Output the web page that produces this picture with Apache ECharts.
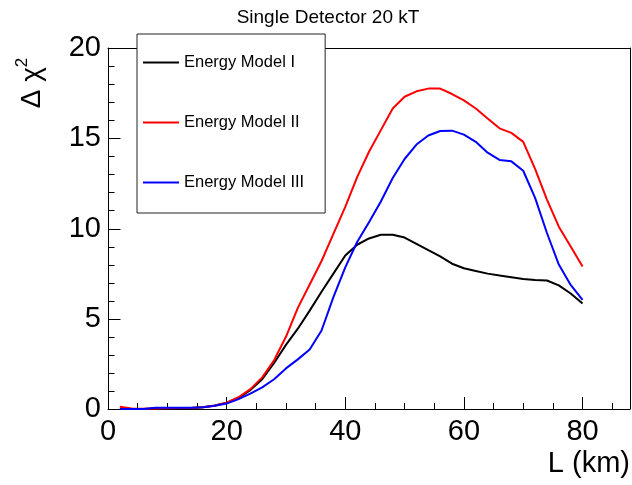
<!DOCTYPE html>
<html><head><meta charset="utf-8">
<script src="https://cdn.jsdelivr.net/npm/echarts@6/dist/echarts.min.js"></script>
<style>html,body{margin:0;padding:0;background:#fff}#c{width:632px;height:485px}</style>
</head><body><div id="c"></div>
<script>
const L_KM = [2,4,6,8,10,12,14,16,18,20,22,24,26,28,30,32,34,36,38,40,42,44,46,48,50,52,54,56,58,60,62,64,66,68,70,72,74,76,78,80];
const MODEL_I = [0.0,0.0,0.0,0.03,0.04,0.05,0.06,0.1,0.2,0.35,0.62,1.05,1.65,2.55,3.55,4.45,5.45,6.5,7.5,8.5,9.1,9.45,9.65,9.65,9.5,9.15,8.8,8.45,8.05,7.8,7.65,7.5,7.4,7.3,7.2,7.15,7.12,6.85,6.4,5.85];
const MODEL_II = [0.13,0.03,0.02,0.03,0.04,0.05,0.06,0.1,0.18,0.35,0.65,1.1,1.75,2.7,4.0,5.6,6.9,8.2,9.7,11.2,12.85,14.25,15.45,16.65,17.3,17.6,17.75,17.75,17.45,17.1,16.65,16.1,15.55,15.3,14.8,13.3,11.6,10.1,9.0,7.9];
const MODEL_III = [0.0,0.0,0.0,0.07,0.07,0.07,0.07,0.1,0.18,0.3,0.55,0.85,1.2,1.65,2.25,2.75,3.3,4.35,6.2,7.85,9.25,10.35,11.5,12.8,13.85,14.65,15.15,15.4,15.42,15.2,14.8,14.2,13.8,13.72,13.2,11.7,9.75,8.0,6.87,6.05];
const X_MAJOR_TICKS = [0,20,40,60,80];
const Y_MAJOR_TICKS = [0,5,10,15,20];
const Y_MINOR_TICKS = [1,2,3,4,6,7,8,9,11,12,13,14,16,17,18,19];
const SERIES_NAMES = ['Energy Model I','Energy Model II','Energy Model III'];
const COLORS = ['#000000','#ff0000','#0000ff'];

const FONT = "'Liberation Sans', Arial, Helvetica, sans-serif";
const chart = echarts.init(document.getElementById('c'), null, {renderer:'canvas'});
const seriesVals = [MODEL_I, MODEL_II, MODEL_III];
const series = SERIES_NAMES.map((n,k)=>({
  name:n, type:'line', xAxisIndex:0, yAxisIndex:0,
  data: L_KM.map((x,i)=>[x, seriesVals[k][i]]),
  showSymbol:false, symbol:'none',
  lineStyle:{color:COLORS[k], width:2},
  itemStyle:{color:COLORS[k]},
  animation:false
}));
// y-axis tick marks drawn through the y scale (custom series)
const tickData = Y_MAJOR_TICKS.map(v=>[0, v, 12]).concat(Y_MINOR_TICKS.map(v=>[0, v, 6]));
series.push({
  name:'yticks', type:'custom', xAxisIndex:0, yAxisIndex:0, silent:true, clip:false, z:5,
  animation:false,
  data: tickData,
  encode:{x:0, y:1},
  renderItem:(params, api)=>{
    const p = api.coord([api.value(0), api.value(1)]);
    const len = api.value(2);
    const x = Math.round(p[0]) + 0.5, y = Math.round(p[1]) + 0.5;
    return {type:'line', shape:{x1:x, y1:y, x2:x+len, y2:y}, style:{stroke:'#000', lineWidth:1, fill:null}};
  }
});
const tickStyle = () => ({color:'#000', width:1});
chart.setOption({
  animation:false,
  grid:{left:108, right:2, top:48, bottom:76, show:false, outerBoundsMode:'none', containLabel:false},
  xAxis:[{
    type:'value', min:0, max:88, interval:20, position:'bottom',
    axisLine:{show:true,onZero:false,lineStyle:{color:'#000',width:1}},
    axisTick:{show:true,inside:true,length:12,lineStyle:tickStyle()},
    axisLabel:{fontSize:29,color:'#000',margin:8,fontFamily:FONT,showMaxLabel:false,
      formatter:v=>X_MAJOR_TICKS.includes(v)?String(v):''},
    splitLine:{show:false}
  },{
    type:'value', min:0, max:88, interval:5, position:'bottom',
    axisLine:{show:false,onZero:false},
    axisTick:{show:true,inside:true,length:6,lineStyle:tickStyle()},
    axisLabel:{show:false}, splitLine:{show:false}
  },{
    type:'value', min:0, max:88, position:'top',
    axisLine:{show:true,onZero:false,lineStyle:{color:'#000',width:1}},
    axisTick:{show:false}, axisLabel:{show:false}, splitLine:{show:false}
  }],
  yAxis:[{
    type:'value', min:0, max:20, interval:5, position:'left',
    axisLine:{show:true,onZero:false,lineStyle:{color:'#000',width:1}},
    axisTick:{show:false},
    axisLabel:{fontSize:29,color:'#000',margin:7,fontFamily:FONT,
      formatter:v=>Y_MAJOR_TICKS.includes(v)?String(v):''},
    splitLine:{show:false}
  },{
    type:'value', min:0, max:20, position:'right',
    axisLine:{show:true,onZero:false,lineStyle:{color:'#000',width:1}},
    axisTick:{show:false}, axisLabel:{show:false}, splitLine:{show:false}
  }],
  legend:{
    show:true, orient:'vertical', left:137, top:34,
    data:SERIES_NAMES,
    icon:'rect',
    itemWidth:36, itemHeight:2, itemGap:43,
    padding:[20,21,22,6],
    backgroundColor:'#fff', borderColor:'#222', borderWidth:1,
    textStyle:{fontSize:16.5,color:'#000',fontFamily:FONT,lineHeight:17},
    selectedMode:false
  },
  graphic:[
    {type:'text', id:'title', x:328, y:18, style:{text:'Single Detector 20 kT', fontSize:19, fontFamily:FONT, fill:'#000', align:'center', verticalAlign:'middle'}},
    {type:'text', id:'xname', x:630, y:464, style:{text:'L (km)', fontSize:29, fontFamily:FONT, fill:'#000', align:'right', verticalAlign:'middle'}},
    {type:'text', id:'yname', x:30, y:83, rotation:Math.PI/2, style:{
      text:'{a|Δ χ}{b|2}', align:'center', verticalAlign:'middle',
      rich:{a:{fontSize:28,fontFamily:FONT,fill:'#000',lineHeight:32,verticalAlign:'bottom'},
            b:{fontSize:17,fontFamily:FONT,fill:'#000',lineHeight:32,verticalAlign:'top'}}
    }}
  ],
  series:series
});
</script></body></html>
